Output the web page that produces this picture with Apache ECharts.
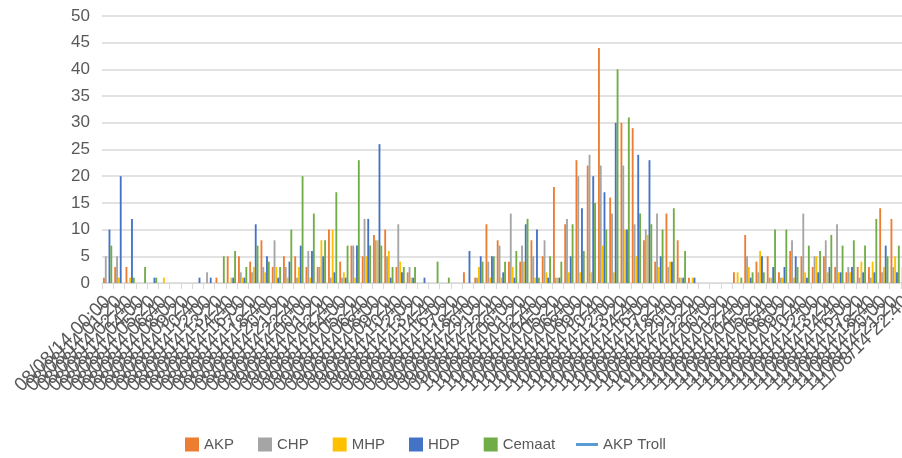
<!DOCTYPE html>
<html>
<head>
<meta charset="utf-8">
<script src="https://cdn.jsdelivr.net/npm/echarts@6/dist/echarts.min.js"></script>
<style>
html,body{margin:0;padding:0;background:#fff;}
#c{width:902px;height:458px;}
</style>
</head>
<body>
<div id="c"></div>
<script>
const categories = [
"08/08/14 00:00","08/08/14 01:20","08/08/14 02:40","08/08/14 04:00","08/08/14 05:20","08/08/14 06:40","08/08/14 08:00","08/08/14 09:20","08/08/14 10:40","08/08/14 12:00","08/08/14 13:20","08/08/14 14:40","08/08/14 16:00","08/08/14 17:20","08/08/14 18:40","08/08/14 20:00","08/08/14 21:20","08/08/14 22:40",
"09/08/14 00:00","09/08/14 01:20","09/08/14 02:40","09/08/14 04:00","09/08/14 05:20","09/08/14 06:40","09/08/14 08:00","09/08/14 09:20","09/08/14 10:40","09/08/14 12:00","09/08/14 13:20","09/08/14 14:40","09/08/14 16:00","09/08/14 17:20","09/08/14 18:40","09/08/14 20:00","09/08/14 21:20","09/08/14 22:40",
"10/08/14 00:00","10/08/14 01:20","10/08/14 02:40","10/08/14 04:00","10/08/14 05:20","10/08/14 06:40","10/08/14 08:00","10/08/14 09:20","10/08/14 10:40","10/08/14 12:00","10/08/14 13:20","10/08/14 14:40","10/08/14 16:00","10/08/14 17:20","10/08/14 18:40","10/08/14 20:00","10/08/14 21:20","10/08/14 22:40",
"11/08/14 00:00","11/08/14 01:20","11/08/14 02:40","11/08/14 04:00","11/08/14 05:20","11/08/14 06:40","11/08/14 08:00","11/08/14 09:20","11/08/14 10:40","11/08/14 12:00","11/08/14 13:20","11/08/14 14:40","11/08/14 16:00","11/08/14 17:20","11/08/14 18:40","11/08/14 20:00","11/08/14 21:20","11/08/14 22:40"
];

const akp    = [1,3,3,0,0,0,0,0,0,0,1,5,5,4,8,3,5,5,3,3,10,4,7,5,9,10,3,2,0,0,0,0,2,1,11,8,4,4,8,5,18,11,23,22,44,16,30,29,8,4,13,8,1,0,0,0,2,9,4,5,2,6,5,3,5,3,2,3,3,14,12,3];
const chp    = [5,5,0,0,0,0,0,0,0,2,0,0,2,2,3,8,3,1,6,3,1,1,7,12,8,5,11,3,0,0,0,0,0,1,4,7,13,7,5,8,1,12,20,24,22,13,22,11,10,13,3,1,0,0,0,0,0,5,2,1,1,8,13,5,8,11,3,1,1,2,3,2];
const mhp    = [0,1,1,0,0,1,0,0,0,0,0,1,1,3,2,3,1,3,1,8,10,2,1,5,8,6,4,1,0,0,0,0,0,3,1,1,3,4,1,2,1,2,2,2,7,2,10,5,9,3,4,1,1,0,0,0,2,3,6,1,1,1,2,5,2,2,2,4,4,3,5,1];
const hdp    = [10,20,12,0,1,0,0,0,1,1,0,1,1,11,5,1,4,7,6,5,2,1,7,12,26,1,2,1,1,0,0,0,6,5,5,2,1,11,10,1,1,5,14,20,17,30,10,24,23,5,4,1,1,0,0,0,0,1,5,3,3,5,1,2,3,2,3,2,2,7,2,1];
const cemaat = [7,0,1,3,1,0,0,0,0,0,5,6,3,7,4,3,10,20,13,8,17,7,23,7,7,3,3,3,0,4,1,0,0,4,5,4,6,12,1,5,4,11,6,15,10,40,31,13,11,10,14,6,0,0,0,0,1,2,2,10,10,3,7,6,9,7,8,7,12,5,7,7];
const akpTroll = categories.map(() => null);

const yTicks = { min: 0, max: 50, interval: 5 };

const seriesNames  = ['AKP','CHP','MHP','HDP','Cemaat'];
const seriesData   = [akp, chp, mhp, hdp, cemaat];
const seriesColors = ['#ED7D31','#A5A5A5','#FFC000','#4472C4','#70AD47'];
const trollName = 'AKP Troll';
const trollColor = '#5B9BD5';

const chart = echarts.init(document.getElementById('c'), null, {renderer:'canvas'});
const textColor = '#595959';
const font = 'Liberation Sans, Arial, sans-serif';

const series = seriesNames.map((n, k) => ({
  name: n,
  type: 'bar',
  data: seriesData[k],
  barGap: '0%',
  barCategoryGap: '18%',
  itemStyle: { color: seriesColors[k] },
  animation: false
}));
series.push({
  name: trollName,
  type: 'line',
  data: akpTroll,
  symbol: 'none',
  lineStyle: { color: trollColor, width: 3 },
  itemStyle: { color: trollColor },
  animation: false
});

chart.setOption({
  animation: false,
  backgroundColor: '#ffffff',
  textStyle: { fontFamily: font },
  grid: { left: 102, top: 16, width: 810, bottom: 175, containLabel: false, outerBoundsMode: 'none' },
  legend: [{
    left: 180,
    top: 432,
    itemWidth: 14,
    itemHeight: 14,
    itemGap: 24,
    icon: 'rect',
    textStyle: { color: textColor, fontSize: 15, fontFamily: font },
    data: seriesNames
  }, {
    left: 571,
    top: 432,
    itemWidth: 22,
    itemHeight: 3,
    itemGap: 3,
    icon: 'rect',
    textStyle: { color: textColor, fontSize: 15, fontFamily: font },
    data: [trollName]
  }],
  xAxis: {
    type: 'category',
    data: categories,
    boundaryGap: true,
    axisLine: { show: true, lineStyle: { color: '#D9D9D9', width: 1 } },
    axisTick: { show: true, length: 6, interval: 0, lineStyle: { color: '#D9D9D9' } },
    axisLabel: {
      interval: 0,
      rotate: 45,
      margin: 16,
      color: textColor,
      fontSize: 19,
      fontFamily: font,
      hideOverlap: false
    },
    splitLine: { show: false }
  },
  yAxis: {
    type: 'value',
    min: yTicks.min,
    max: yTicks.max,
    interval: yTicks.interval,
    axisLine: { show: false },
    axisTick: { show: false },
    axisLabel: { color: textColor, fontSize: 17, fontFamily: font, margin: 12 },
    splitLine: { lineStyle: { color: '#D9D9D9', width: 1.5 } }
  },
  series: series
});
</script>
</body>
</html>
